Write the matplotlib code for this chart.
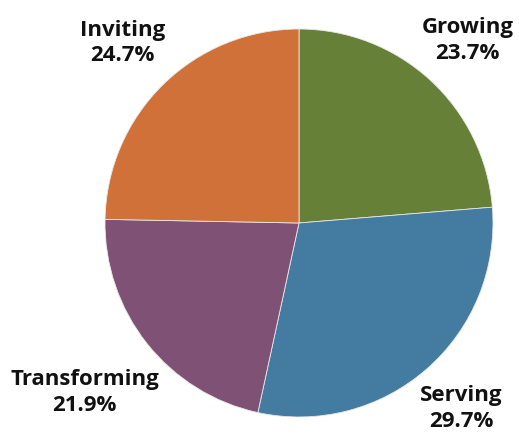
import numpy as np
import matplotlib.pyplot as plt

# data (clockwise from 12 o'clock)
labels = ["Growing", "Serving", "Transforming", "Inviting"]
values = [23.7, 29.7, 21.9, 24.7]
colors = ["#668038", "#437ba1", "#7f5275", "#d07139"]

fig = plt.figure(figsize=(5.19, 4.36), dpi=100)
ax = fig.add_axes([0, 0, 1, 1])
ax.set_xlim(0, 519)
ax.set_ylim(0, 436)
ax.set_aspect("equal")
ax.axis("off")

cx, cy, r = 299, 213, 194
wedges, _ = ax.pie(values, colors=colors, startangle=90, counterclock=False,
                   center=(cx, cy), radius=r, frame=True,
                   wedgeprops=dict(linewidth=0.6, edgecolor="#e8e8e8"))
ax.set_xlim(0, 519)
ax.set_ylim(0, 436)
ax.axis("off")

# labels outside each slice
dist = [1.28, 1.27, 1.41, 1.30]
for w, lab, v, d in zip(wedges, labels, values, dist):
    ang = np.deg2rad((w.theta1 + w.theta2) / 2)
    x = cx + d * r * np.cos(ang)
    y = cy + d * r * np.sin(ang)
    ax.text(x, y, f"{lab}\n{v:.1f}%", ha="center", va="center",
            fontsize=16, fontweight="bold", family="Open Sans",
            linespacing=1.3, color="#111111")

fig.savefig("out.png", dpi=100)
